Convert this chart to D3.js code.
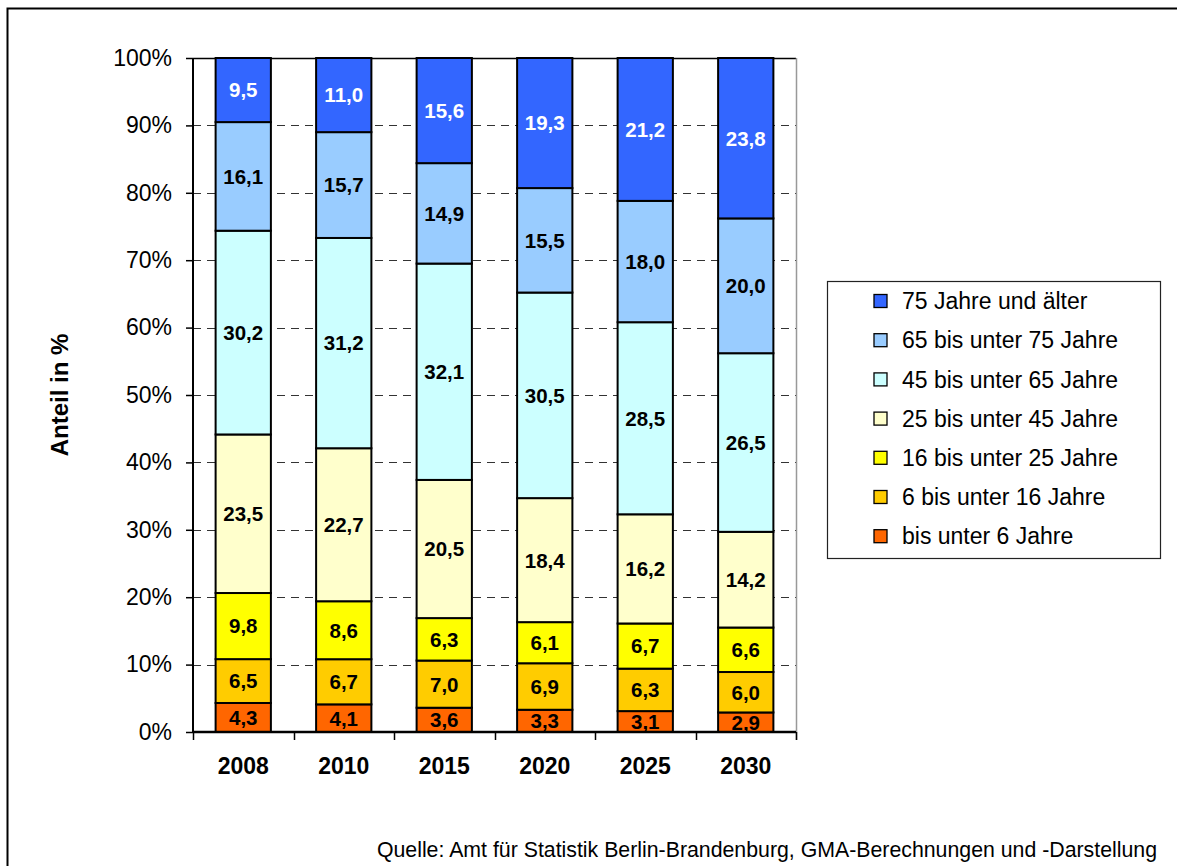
<!DOCTYPE html>
<html>
<head>
<meta charset="utf-8">
<script src="https://cdn.jsdelivr.net/npm/d3@7"></script>
<style>
  body { margin: 0; background: #fff; }
  text { font-family: "Liberation Sans", Arial, sans-serif; }
</style>
</head>
<body>
<svg id="chart" width="1177" height="866"></svg>
<script>
// data
var years = ["2008", "2010", "2015", "2020", "2025", "2030"];
var groups = ["bis unter 6 Jahre", "6 bis unter 16 Jahre", "16 bis unter 25 Jahre",
              "25 bis unter 45 Jahre", "45 bis unter 65 Jahre", "65 bis unter 75 Jahre",
              "75 Jahre und älter"];
var unter6   = [4.3, 4.1, 3.6, 3.3, 3.1, 2.9];
var b6_16    = [6.5, 6.7, 7.0, 6.9, 6.3, 6.0];
var b16_25   = [9.8, 8.6, 6.3, 6.1, 6.7, 6.6];
var b25_45   = [23.5, 22.7, 20.5, 18.4, 16.2, 14.2];
var b45_65   = [30.2, 31.2, 32.1, 30.5, 28.5, 26.5];
var b65_75   = [16.1, 15.7, 14.9, 15.5, 18.0, 20.0];
var ab75     = [9.5, 11.0, 15.6, 19.3, 21.2, 23.8];
var yTicks = [0, 0.1, 0.2, 0.3, 0.4, 0.5, 0.6, 0.7, 0.8, 0.9, 1];

var colors = ["#FF6600", "#FFCC00", "#FFFF00", "#FFFFCC", "#CCFFFF", "#99CCFF", "#3366FF"];
var series = [unter6, b6_16, b16_25, b25_45, b45_65, b65_75, ab75];

// build table for stack
var table = years.map(function(y, i) {
  var row = {year: y};
  groups.forEach(function(g, k) { row[g] = series[k][i]; });
  return row;
});

var stacked = d3.stack().keys(groups).offset(d3.stackOffsetExpand)(table);

var margin = {top: 58, left: 193, right: 381, bottom: 134};
var width = 1177 - margin.left - margin.right,
    height = 866 - margin.top - margin.bottom;

var svgtop = d3.select("#chart");

// outer frame
svgtop.append("rect")
  .attr("x", 7.5).attr("y", 8.5)
  .attr("width", 1200).attr("height", 900)
  .attr("fill", "none")
  .attr("stroke", "#000")
  .attr("stroke-width", 2);

var svg = svgtop.append("g")
  .attr("transform", "translate(" + margin.left + "," + margin.top + ")");

var xScale = d3.scaleBand().domain(years).range([0, width]).paddingInner(0.45).paddingOuter(0.225);
var yScale = d3.scaleLinear().domain([0, 1]).range([height, 0]);

// gridlines
svg.append("g")
  .selectAll("line")
  .data(yTicks.slice(1, -1))
  .enter().append("line")
  .attr("x1", 0).attr("x2", width)
  .attr("y1", function(d) { return Math.round(yScale(d)) + 0.5; })
  .attr("y2", function(d) { return Math.round(yScale(d)) + 0.5; })
  .attr("stroke", "#333")
  .attr("stroke-dasharray", "8,6");

// plot frame top and right
svg.append("line").attr("x1", 0).attr("x2", width).attr("y1", 0.5).attr("y2", 0.5)
  .attr("stroke", "#000").attr("stroke-width", 1.5);
svg.append("line").attr("x1", width + 0.5).attr("x2", width + 0.5).attr("y1", 0).attr("y2", height + 8)
  .attr("stroke", "#999").attr("stroke-width", 1.5);

// bars
var layers = svg.selectAll(".layer")
  .data(stacked)
  .enter().append("g")
  .attr("class", "layer")
  .attr("fill", function(d, i) { return colors[i]; });

layers.selectAll("rect")
  .data(function(d) { return d; })
  .enter().append("rect")
  .attr("x", function(d) { return xScale(d.data.year); })
  .attr("y", function(d) { return yScale(d[1]); })
  .attr("width", xScale.bandwidth())
  .attr("height", function(d) { return yScale(d[0]) - yScale(d[1]); })
  .attr("stroke", "#000")
  .attr("stroke-width", 2);

// value labels
stacked.forEach(function(layer, i) {
  svg.append("g").selectAll("text")
    .data(layer)
    .enter().append("text")
    .attr("x", function(d) { return xScale(d.data.year) + xScale.bandwidth() / 2; })
    .attr("y", function(d) { return (yScale(d[0]) + yScale(d[1])) / 2; })
    .attr("dy", "0.36em")
    .attr("text-anchor", "middle")
    .attr("font-size", "20.5px")
    .attr("font-weight", "bold")
    .attr("fill", i == 6 ? "#fff" : "#000")
    .text(function(d) { return d3.format(".1f")(d.data[layer.key]).replace(".", ","); });
});

// y axis
var yAxis = svg.append("g")
  .call(d3.axisLeft(yScale).tickValues(yTicks).tickSize(7).tickPadding(14)
    .tickFormat(function(d) { return Math.round(d * 100) + "%"; }));
yAxis.select(".domain").attr("stroke-width", 2).attr("d", "M0,0V" + height);
yAxis.selectAll(".tick line").attr("stroke-width", 1.5);
yAxis.selectAll("text").attr("font-size", "23px").attr("fill", "#000")
  .style("font-family", "'Liberation Sans', Arial, sans-serif");

// x axis
var xAxis = svg.append("g")
  .attr("transform", "translate(0," + height + ")")
  .call(d3.axisBottom(xScale).tickSize(0).tickPadding(26));
xAxis.select(".domain").attr("stroke-width", 2.5).attr("d", "M0,0H" + width);
xAxis.selectAll("text").attr("font-size", "23px").attr("font-weight", "bold").attr("fill", "#000")
  .style("font-family", "'Liberation Sans', Arial, sans-serif");

// x category boundary ticks
var step = xScale.step();
svg.append("g").selectAll("line")
  .data(d3.range(years.length + 1))
  .enter().append("line")
  .attr("x1", function(d) { return Math.round(d * step) + 0.5; })
  .attr("x2", function(d) { return Math.round(d * step) + 0.5; })
  .attr("y1", height).attr("y2", height + 8)
  .attr("stroke", "#000").attr("stroke-width", 1.5);

// y axis title
svgtop.append("text")
  .attr("transform", "translate(68,395) rotate(-90)")
  .attr("text-anchor", "middle")
  .attr("font-size", "24px")
  .attr("font-weight", "bold")
  .text("Anteil in %");

// legend
var leg = svgtop.append("g").attr("transform", "translate(827,281)");
leg.append("rect")
  .attr("x", 0.5).attr("y", 0.5)
  .attr("width", 333).attr("height", 277)
  .attr("fill", "#fff").attr("stroke", "#222").attr("stroke-width", 1.2);

var legItems = groups.slice().reverse();
var legColors = colors.slice().reverse();
legItems.forEach(function(g, i) {
  var yy = 20 + i * 39.2;
  leg.append("rect")
    .attr("x", 47).attr("y", yy - 6.5)
    .attr("width", 13).attr("height", 13)
    .attr("fill", legColors[i])
    .attr("stroke", "#000").attr("stroke-width", 1.3);
  leg.append("text")
    .attr("x", 75).attr("y", yy)
    .attr("dy", "0.36em")
    .attr("font-size", "23px")
    .text(g);
});

// source
svgtop.append("text")
  .attr("x", 1157).attr("y", 857)
  .attr("text-anchor", "end")
  .attr("font-size", "21.3px")
  .text("Quelle: Amt für Statistik Berlin-Brandenburg, GMA-Berechnungen und -Darstellung");
</script>
</body>
</html>
